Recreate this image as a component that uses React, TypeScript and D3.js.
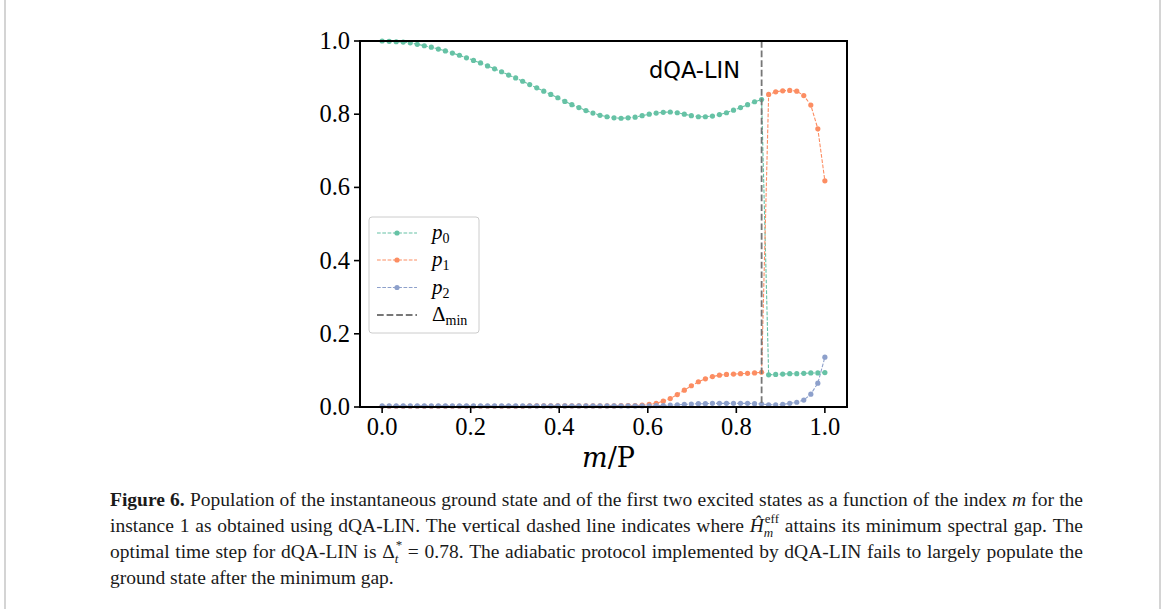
import React from "react";
import * as d3 from "d3";

const W = 1165;
const H = 609;

const P = 63;
const xTicks = [0, 0.2, 0.4, 0.6, 0.8, 1.0];
const yTicks = [0, 0.2, 0.4, 0.6, 0.8, 1.0];
const minGapIndex = 54;

const p0 = [
  1.0, 0.999, 0.998, 0.997, 0.995, 0.991, 0.987, 0.983, 0.978, 0.973,
  0.967, 0.961, 0.954, 0.947, 0.94, 0.932, 0.924, 0.916, 0.907, 0.899,
  0.89, 0.881, 0.872, 0.863, 0.854, 0.845, 0.835, 0.826, 0.818, 0.81,
  0.803, 0.797, 0.793, 0.79, 0.789, 0.79, 0.792, 0.796, 0.8, 0.803,
  0.805, 0.806, 0.804, 0.8, 0.796, 0.793, 0.793, 0.795, 0.799, 0.804,
  0.811, 0.818, 0.826, 0.834, 0.84,
  0.088, 0.089, 0.09, 0.091, 0.091, 0.092, 0.093, 0.093, 0.094,
];

const p1 = [
  0.002, 0.002, 0.002, 0.002, 0.002, 0.002, 0.002, 0.002, 0.002, 0.002,
  0.002, 0.002, 0.002, 0.002, 0.002, 0.002, 0.002, 0.002, 0.002, 0.002,
  0.002, 0.003, 0.003, 0.003, 0.003, 0.003, 0.003, 0.003, 0.003, 0.003,
  0.003, 0.003, 0.003, 0.003, 0.004, 0.004, 0.004, 0.005, 0.007, 0.01,
  0.016, 0.023, 0.034, 0.046, 0.058, 0.069, 0.077, 0.083, 0.087, 0.089,
  0.09, 0.091, 0.092, 0.093, 0.095,
  0.854, 0.861, 0.864, 0.865, 0.863, 0.851, 0.825, 0.76, 0.618,
];

const p2 = [
  0.003, 0.003, 0.003, 0.003, 0.003, 0.003, 0.003, 0.003, 0.003, 0.003,
  0.003, 0.003, 0.003, 0.003, 0.003, 0.003, 0.003, 0.003, 0.003, 0.003,
  0.003, 0.003, 0.003, 0.003, 0.003, 0.003, 0.003, 0.003, 0.003, 0.003,
  0.003, 0.003, 0.003, 0.003, 0.003, 0.003, 0.003, 0.003, 0.003, 0.004,
  0.004, 0.005, 0.006, 0.007, 0.008, 0.009, 0.009, 0.01, 0.01, 0.01,
  0.01, 0.01, 0.01, 0.009, 0.008,
  0.006, 0.006, 0.007, 0.01, 0.013, 0.019, 0.035, 0.065, 0.136,
];

const seriesNames = ["p0", "p1", "p2"];
const seriesColors = ["#66c2a5", "#fc8d62", "#8da0cb"];
const seriesData = [p0, p1, p2];

type Run =
  | { t: string; it?: boolean; b?: boolean }
  | { sup: string; sub: string; subIt?: boolean };

const captionLine1: Run[] = [
  { t: "Figure 6.", b: true },
  { t: " Population of the instantaneous ground state and of the first two excited states as a function of the index " },
  { t: "m", it: true },
  { t: " for the" },
];
const captionLine2: Run[] = [
  { t: "instance 1 as obtained using dQA-LIN. The vertical dashed line indicates where " },
  { t: "Ĥ", it: true },
  { sup: "eff", sub: "m", subIt: true },
  { t: " attains its minimum spectral gap. The" },
];
const captionLine3: Run[] = [
  { t: "optimal time step for dQA-LIN is Δ" },
  { sup: "*", sub: "t", subIt: true },
  { t: " = 0.78. The adiabatic protocol implemented by dQA-LIN fails to largely populate the" },
];
const captionLine4: Run[] = [{ t: "ground state after the minimum gap." }];

const plotLeft = 360;
const plotRight = 847;
const plotTop = 41;
const plotBottom = 407;

const serif = "'Liberation Serif', 'DejaVu Serif', serif";
const sans = "'DejaVu Sans', sans-serif";

const capSize = 19.5;
const scriptSize = 13;
const capLeft = 110;
const capRight = 1083;

let ctx: CanvasRenderingContext2D | null = null;
function measure(text: string, size: number, it = false, b = false) {
  if (!ctx) ctx = document.createElement("canvas").getContext("2d");
  if (!ctx) return text.length * size * 0.45;
  ctx.font = `${it ? "italic " : ""}${b ? "bold " : ""}${size}px "Liberation Serif"`;
  return ctx.measureText(text).width;
}

type Item = {
  kind: "word" | "space" | "script";
  text?: string;
  it?: boolean;
  b?: boolean;
  sup?: string;
  sub?: string;
  subIt?: boolean;
  w: number;
};

function layoutLine(runs: Run[], baseline: number, justify: boolean, key: string) {
  const items: Item[] = [];
  runs.forEach((r) => {
    if ("t" in r) {
      const parts = r.t.split(/( )/);
      parts.forEach((p) => {
        if (p === "") return;
        if (p === " ") items.push({ kind: "space", w: measure(" ", capSize), b: r.b });
        else items.push({ kind: "word", text: p, it: r.it, b: r.b, w: measure(p, capSize, r.it, r.b) });
      });
    } else {
      const w = Math.max(measure(r.sup, scriptSize), measure(r.sub, scriptSize, r.subIt));
      items.push({ kind: "script", sup: r.sup, sub: r.sub, subIt: r.subIt, w: w + 1 });
    }
  });
  const natural = d3.sum(items, (d) => d.w);
  const nSpaces = items.filter((d) => d.kind === "space").length;
  const extra = justify && nSpaces > 0 ? (capRight - capLeft - natural) / nSpaces : 0;
  let xPos = capLeft;
  const out: React.ReactNode[] = [];
  items.forEach((it, i) => {
    if (it.kind === "space") {
      xPos += it.w + extra;
    } else if (it.kind === "word") {
      out.push(
        <text
          key={key + i}
          x={xPos}
          y={baseline}
          fontStyle={it.it ? "italic" : "normal"}
          fontWeight={it.b ? "bold" : "normal"}
        >
          {it.text}
        </text>
      );
      xPos += it.w;
    } else {
      out.push(
        <text key={key + i + "sup"} x={xPos + 1} y={baseline - 9} fontSize={scriptSize}>
          {it.sup}
        </text>
      );
      out.push(
        <text
          key={key + i + "sub"}
          x={xPos}
          y={baseline + 5}
          fontSize={scriptSize}
          fontStyle={it.subIt ? "italic" : "normal"}
        >
          {it.sub}
        </text>
      );
      xPos += it.w;
    }
  });
  return out;
}

export default function App() {
  const x = d3.scaleLinear().domain([-0.05, 1.05]).range([plotLeft, plotRight]);
  const y = d3.scaleLinear().domain([0, 1]).range([plotBottom, plotTop]);

  const line = d3
    .line<number>()
    .x((_, i) => x(i / P))
    .y((d) => y(d));

  const vx = x(minGapIndex / P);

  const legendX = 369;
  const legendY = 217;
  const legendRows = [233, 260, 287.5, 315];

  return (
    <svg
      width={W}
      height={H}
      style={{ position: "absolute", left: 0, top: 0, background: "#fff" }}
    >
      <rect x={0} y={0} width={W} height={H} fill="#fff" />
      <line x1={5} x2={5} y1={0} y2={H} stroke="#d4d4d4" strokeWidth={2} />
      <line x1={1160} x2={1160} y1={0} y2={H} stroke="#d4d4d4" strokeWidth={2} />

      {/* series */}
      {seriesData.map((s, k) => (
        <g key={seriesNames[k]}>
          <path
            d={line(s) || ""}
            fill="none"
            stroke={seriesColors[k]}
            strokeWidth={1.1}
            strokeDasharray="3.7,1.6"
          />
          {s.map((v, i) => (
            <circle key={i} cx={x(i / P)} cy={y(v)} r={2.6} fill={seriesColors[k]} />
          ))}
        </g>
      ))}

      {/* min gap line */}
      <line
        x1={vx}
        x2={vx}
        y1={plotTop}
        y2={plotBottom}
        stroke="#777777"
        strokeWidth={1.8}
        strokeDasharray="6.7,2.9"
      />

      <text x={740} y={78} fontFamily={sans} fontSize={22.5} textAnchor="end" fill="#000">
        dQA-LIN
      </text>

      {/* spines */}
      <rect
        x={plotLeft}
        y={plotTop}
        width={plotRight - plotLeft}
        height={plotBottom - plotTop}
        fill="none"
        stroke="#000"
        strokeWidth={2}
      />

      {/* x ticks */}
      {xTicks.map((t) => (
        <g key={"x" + t}>
          <line x1={x(t)} x2={x(t)} y1={plotBottom} y2={plotBottom + 6} stroke="#000" strokeWidth={1.6} />
          <text x={x(t)} y={435} fontFamily={serif} fontSize={24.5} textAnchor="middle" fill="#000">
            {d3.format(".1f")(t)}
          </text>
        </g>
      ))}
      {/* y ticks */}
      {yTicks.map((t) => (
        <g key={"y" + t}>
          <line x1={plotLeft - 6} x2={plotLeft} y1={y(t)} y2={y(t)} stroke="#000" strokeWidth={1.6} />
          <text x={350} y={y(t) + 8} fontFamily={serif} fontSize={24.5} textAnchor="end" fill="#000">
            {d3.format(".1f")(t)}
          </text>
        </g>
      ))}

      <text
        x={(plotLeft + plotRight) / 2 + 5}
        y={467}
        fontFamily="'DejaVu Serif', serif"
        fontSize={27}
        textAnchor="middle"
        fill="#000"
      >
        <tspan fontStyle="italic">m</tspan>
        <tspan>/P</tspan>
      </text>

      {/* legend */}
      <rect
        x={legendX}
        y={legendY}
        width={110}
        height={116}
        rx={3}
        fill="#fff"
        fillOpacity={0.8}
        stroke="#cccccc"
        strokeWidth={1}
      />
      {seriesNames.map((n, k) => (
        <g key={"leg" + n}>
          <line
            x1={377}
            x2={417}
            y1={legendRows[k]}
            y2={legendRows[k]}
            stroke={seriesColors[k]}
            strokeWidth={1.1}
            strokeDasharray="3.7,1.6"
          />
          <circle cx={397} cy={legendRows[k]} r={2.6} fill={seriesColors[k]} />
          <text x={432} y={legendRows[k] + 6} fontFamily={serif} fontSize={21} fill="#000">
            <tspan fontStyle="italic">p</tspan>
            <tspan fontSize={14} dy={4}>{k}</tspan>
          </text>
        </g>
      ))}
      <line
        x1={377}
        x2={417}
        y1={legendRows[3]}
        y2={legendRows[3]}
        stroke="#777777"
        strokeWidth={1.8}
        strokeDasharray="6.7,2.9"
      />
      <text x={432} y={legendRows[3] + 6} fontFamily={serif} fontSize={21} fill="#000">
        <tspan>Δ</tspan>
        <tspan fontSize={14} dy={4}>min</tspan>
      </text>

      {/* caption */}
      <g fontFamily={serif} fontSize={capSize} fill="#1a1a1a">
        {layoutLine(captionLine1, 506, true, "l1")}
        {layoutLine(captionLine2, 532, true, "l2")}
        {layoutLine(captionLine3, 558, true, "l3")}
        {layoutLine(captionLine4, 584, false, "l4")}
      </g>
    </svg>
  );
}
